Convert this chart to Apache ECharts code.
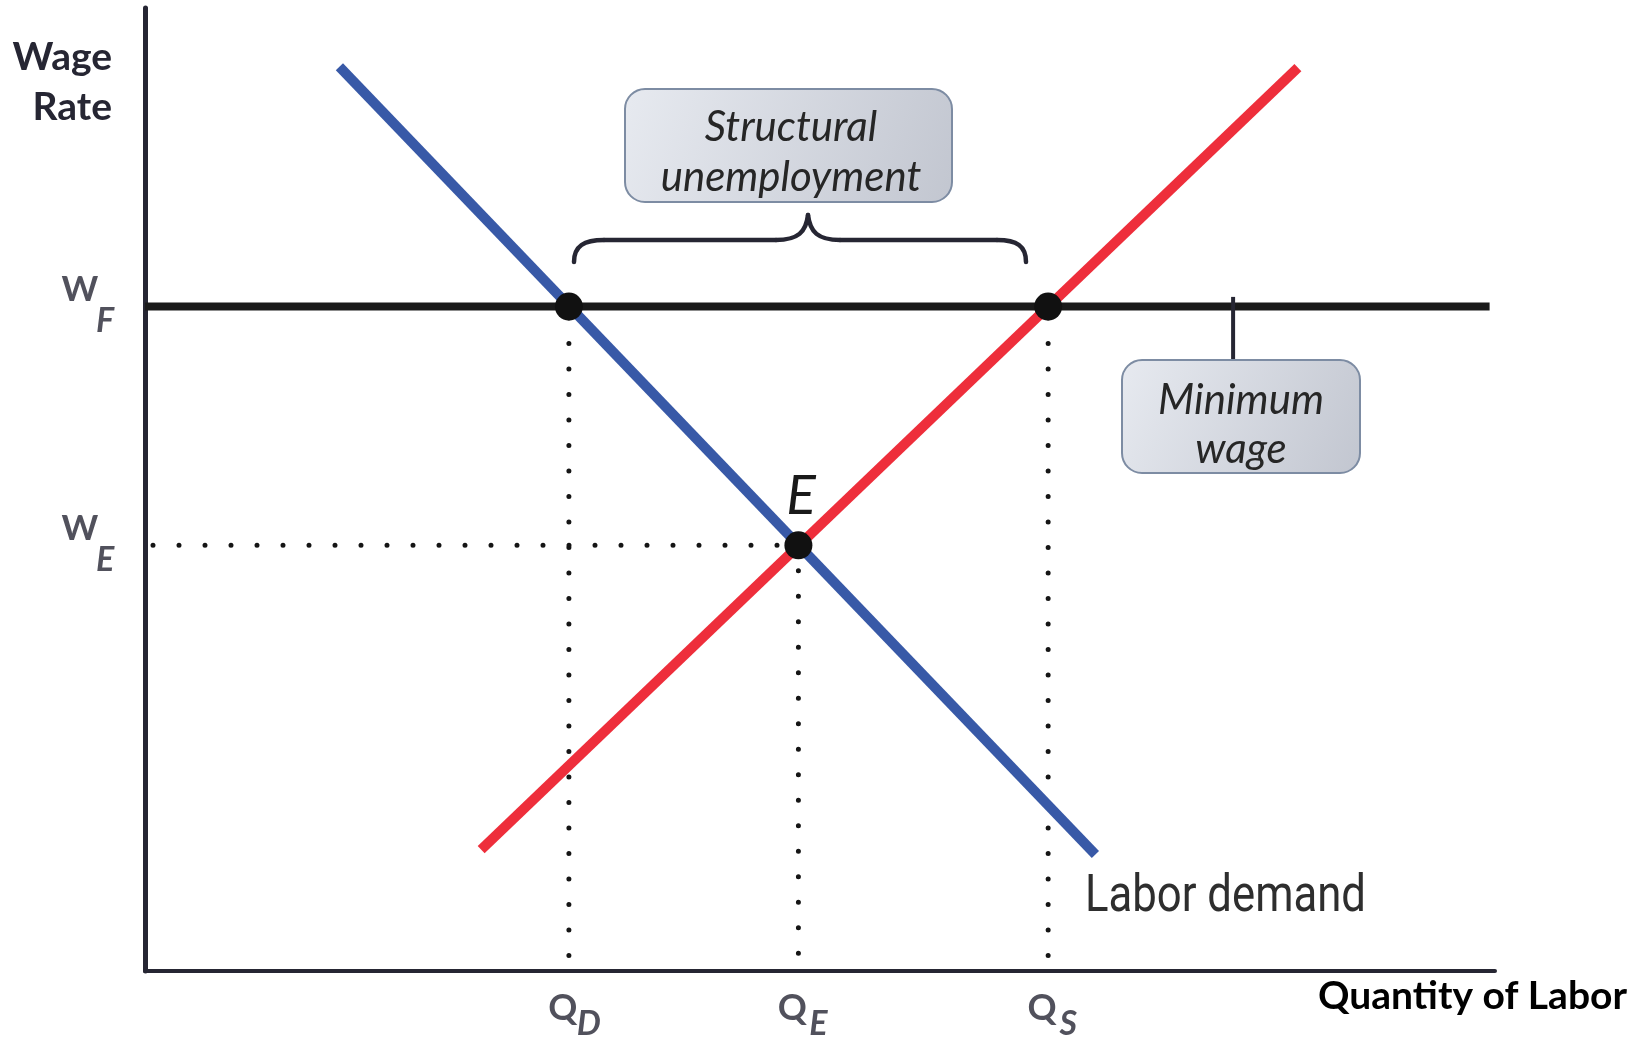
<!DOCTYPE html>
<html>
<head>
<meta charset="utf-8">
<script src="https://cdn.jsdelivr.net/npm/echarts@6/dist/echarts.min.js"></script>
<style>
html,body{margin:0;padding:0;background:#ffffff;}
#c{width:1643px;height:1037px;}
</style>
</head>
<body>
<div id="c"></div>
<script>
// ---------- data ----------
const wageLevels = [69.0, 44.2];            // W_F (minimum wage), W_E (equilibrium wage)
const wageSubscripts = ['F', 'E'];
const quantityLevels = [31.4, 48.4, 66.9];  // Q_D, Q_E, Q_S
const quantitySubscripts = ['D', 'E', 'S'];
const demandLine = [[14.4, 93.9], [70.4, 12.1]];
const supplyLine = [[24.9, 12.6], [85.4, 93.8]];
const minWageLine = [[0, 69.0], [99.6, 69.0]];
const connectorLine = [[80.6, 70.0], [80.6, 63.4]];
const keyPoints = [[31.4, 69.0], [48.4, 44.2], [66.9, 69.0]];

const WF = wageLevels[0], WE = wageLevels[1];
const QD = quantityLevels[0], QE = quantityLevels[1], QS = quantityLevels[2];

const INK = '#262633';
const chart = echarts.init(document.getElementById('c'), null, {renderer: 'canvas'});

function dotted(data, offset, gap) {
  return {
    type: 'line', data: data, symbol: 'none', silent: true, z: 3, clip: false,
    lineStyle: {color: '#151515', width: 5, type: [0, gap], cap: 'round', dashOffset: offset}
  };
}

function letterSeries(points, texts, offset, italic, size) {
  return {
    type: 'scatter', data: points, symbolSize: 0, silent: true, z: 6, clip: false,
    label: {
      show: true, position: 'inside', offset: offset,
      formatter: function (p) { return texts[p.dataIndex]; },
      fontFamily: 'Lato', fontWeight: 'bold', fontStyle: italic ? 'italic' : 'normal',
      fontSize: size, color: INK
    }
  };
}

const boxFill = {
  type: 'linear', x: 0, y: 0, x2: 1, y2: 1,
  colorStops: [{offset: 0, color: '#e7eaf0'}, {offset: 1, color: '#c2c6d0'}]
};

const option = {
  animation: false,
  backgroundColor: '#ffffff',
  grid: {left: 145, top: 8, width: 1350, height: 963},
  xAxis: {
    type: 'value', min: 0, max: 100,
    axisLine: {show: true, lineStyle: {color: INK, width: 4}},
    axisTick: {show: false}, axisLabel: {show: false}, splitLine: {show: false}
  },
  yAxis: {
    type: 'value', min: 0, max: 100,
    axisLine: {show: true, lineStyle: {color: INK, width: 5}},
    axisTick: {show: false}, axisLabel: {show: false}, splitLine: {show: false}
  },
  series: [
    // minimum wage floor
    {type: 'line', data: minWageLine, symbol: 'none', silent: true, z: 2,
     lineStyle: {color: '#1a1a1a', width: 8}},
    // connector from floor to label box
    {type: 'line', data: connectorLine, symbol: 'none', silent: true, z: 2, clip: false,
     lineStyle: {color: INK, width: 4}},
    // dotted guide lines
    dotted([[QD, WF], [QD, 0]], 14, 25.5),
    dotted([[QS, WF], [QS, 0]], 14, 25.5),
    dotted([[QE, WE], [QE, 0]], 0, 25.5),
    dotted([[0, WE], [QE, WE]], 18, 26),
    // labor demand (blue)
    {type: 'line', data: demandLine, symbol: 'none', silent: true, z: 4,
     lineStyle: {color: '#3859a7', width: 10}},
    // labor supply (red)
    {type: 'line', data: supplyLine, symbol: 'none', silent: true, z: 4,
     lineStyle: {color: '#ee2e3b', width: 10}},
    // intersection points
    {type: 'scatter', data: keyPoints, symbol: 'circle', symbolSize: 28, silent: true, z: 5,
     itemStyle: {color: '#111111', opacity: 1}},
    // axis tick letters
    letterSeries(wageLevels.map(v => [0, v]), wageLevels.map(() => 'W'), [-65, -17], false, 35),
    letterSeries(wageLevels.map(v => [0, v]), wageSubscripts, [-40, 15], true, 34),
    letterSeries(quantityLevels.map(v => [v, 0]), quantityLevels.map(() => 'Q'), [-6, 37], false, 36),
    letterSeries(quantityLevels.map(v => [v, 0]), quantitySubscripts, [20, 53], true, 34)
  ],
  graphic: [
    // axis titles
    {type: 'text', z: 10, style: {text: 'Wage', x: 112, y: 57, align: 'right', verticalAlign: 'middle',
      font: 'bold 39px Lato', fill: INK}},
    {type: 'text', z: 10, style: {text: 'Rate', x: 112, y: 107, align: 'right', verticalAlign: 'middle',
      font: 'bold 39px Lato', fill: INK}},
    {type: 'text', z: 10, style: {text: 'Quantity of Labor', x: 1627, y: 996, align: 'right', verticalAlign: 'middle',
      font: 'bold 39px Lato', fill: '#000000'}},
    // equilibrium letter
    {type: 'text', z: 10, style: {text: 'E', x: 801, y: 496, align: 'center', verticalAlign: 'middle',
      font: 'italic 55px Lato', fill: '#1a1a1a'}},
    // curve label
    {type: 'text', z: 10, x: 1085, y: 898, scaleX: 0.84, scaleY: 1,
     style: {text: 'Labor demand', x: 0, y: 0, align: 'left', verticalAlign: 'middle',
      font: '400 52px Roboto', fill: '#2e2e2e'}},
    // structural unemployment box
    {type: 'rect', z: 8, shape: {x: 625, y: 89, width: 327, height: 113, r: 20},
     style: {fill: boxFill, stroke: '#7d8ca3', lineWidth: 2}},
    {type: 'text', z: 10, style: {text: 'Structural', x: 791, y: 127, align: 'center', verticalAlign: 'middle',
      font: 'italic 42px Lato', fill: '#262626'}},
    {type: 'text', z: 10, style: {text: 'unemployment', x: 791, y: 177, align: 'center', verticalAlign: 'middle',
      font: 'italic 42px Lato', fill: '#262626'}},
    // minimum wage box
    {type: 'rect', z: 8, shape: {x: 1122, y: 360, width: 238, height: 113, r: 20},
     style: {fill: boxFill, stroke: '#7d8ca3', lineWidth: 2}},
    {type: 'text', z: 10, style: {text: 'Minimum', x: 1241, y: 400, align: 'center', verticalAlign: 'middle',
      font: 'italic 42px Lato', fill: '#262626'}},
    {type: 'text', z: 10, style: {text: 'wage', x: 1241, y: 449, align: 'center', verticalAlign: 'middle',
      font: 'italic 42px Lato', fill: '#262626'}},
    // curly brace
    {type: 'bezierCurve', z: 9, shape: {x1: 574, y1: 262, cpx1: 574, cpy1: 246, cpx2: 584, cpy2: 240, x2: 604, y2: 240},
     style: {fill: null, stroke: INK, lineWidth: 4.5, lineCap: 'round'}},
    {type: 'line', z: 9, shape: {x1: 604, y1: 240, x2: 776, y2: 240},
     style: {stroke: INK, lineWidth: 4.5, lineCap: 'round'}},
    {type: 'bezierCurve', z: 9, shape: {x1: 776, y1: 240, cpx1: 798, cpy1: 240, cpx2: 806, cpy2: 232, x2: 808, y2: 215},
     style: {fill: null, stroke: INK, lineWidth: 4.5, lineCap: 'round'}},
    {type: 'bezierCurve', z: 9, shape: {x1: 808, y1: 215, cpx1: 810, cpy1: 232, cpx2: 818, cpy2: 240, x2: 840, y2: 240},
     style: {fill: null, stroke: INK, lineWidth: 4.5, lineCap: 'round'}},
    {type: 'line', z: 9, shape: {x1: 840, y1: 240, x2: 997, y2: 240},
     style: {stroke: INK, lineWidth: 4.5, lineCap: 'round'}},
    {type: 'bezierCurve', z: 9, shape: {x1: 997, y1: 240, cpx1: 1017, cpy1: 240, cpx2: 1026, cpy2: 246, x2: 1026, y2: 262},
     style: {fill: null, stroke: INK, lineWidth: 4.5, lineCap: 'round'}}
  ]
};
chart.setOption(option);
</script>
</body>
</html>
